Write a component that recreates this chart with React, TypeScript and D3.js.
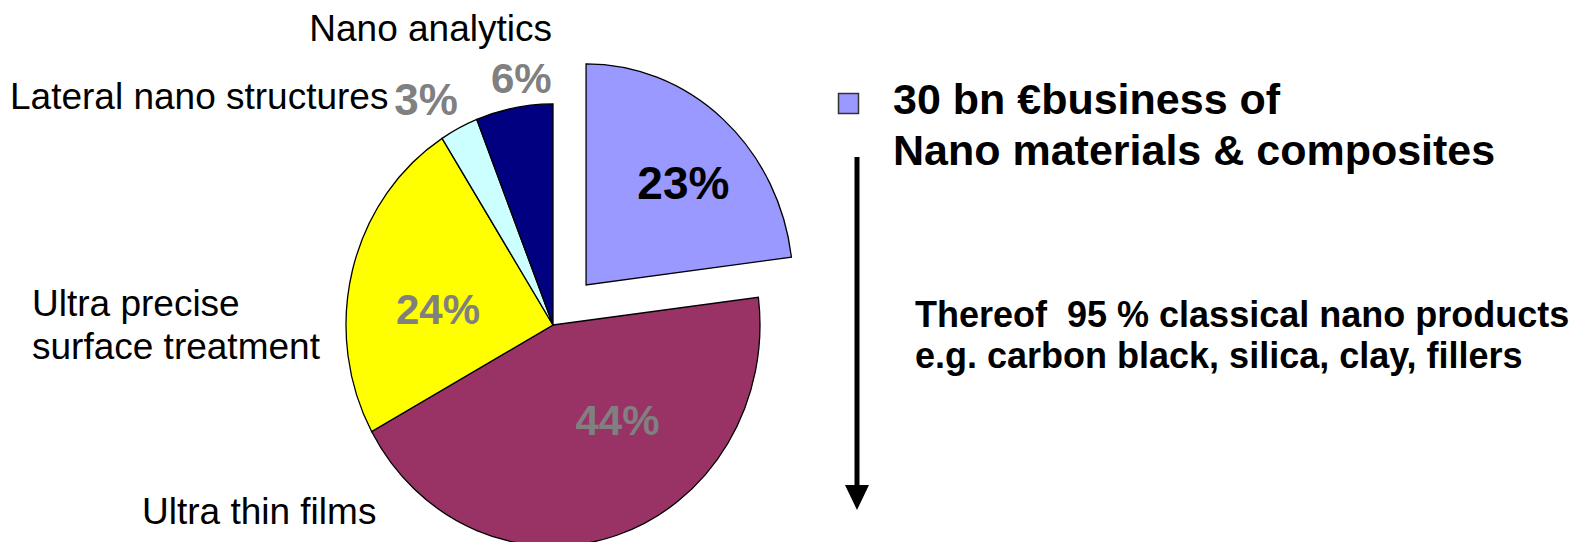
import * as d3 from "d3";
import { useEffect, useRef } from "react";

// slices, clockwise from 12 o'clock
const categories = ["Nano materials & composites", "Ultra thin films", "Ultra precise surface treatment", "Lateral nano structures", "Nano analytics"];
const shares = [23, 44, 24, 3, 6];
const sliceColors = ["#9999ff", "#993366", "#ffff00", "#ccffff", "#000080"];
const pctColors = ["#000000", "#808080", "#808080", "#808080", "#808080"];

const legendLine1 = "30 bn €business of";
const legendLine2 = "Nano materials & composites";
const noteLines = ["Thereof  95 % classical nano products", "e.g. carbon black, silica, clay, fillers"];

const W = 1588, H = 542;
const FONT = "'Liberation Sans', Arial, Helvetica, sans-serif";

const App = () => {
    const ref = useRef<SVGSVGElement>(null);

    useEffect(() => {
        const svg = d3.select(ref.current);
        svg.selectAll("*").remove();

        const cx = 553, cy = 325;
        const radius = 207;
        const yStretch = 1.068; // the pie in the picture is a little taller than wide
        const explode = 50;

        const pie = d3.pie<number>().sort(null).value(d => d);
        const slices = pie(shares);
        const arc = d3.arc<d3.PieArcDatum<number>>().innerRadius(0).outerRadius(radius);

        const mid = (d) => (d.startAngle + d.endAngle) / 2;
        const shift = (d, i) => (i === 0 ? explode : 0);

        const g = svg.append("g").attr("transform", `translate(${cx},${cy}) scale(1,${yStretch})`);

        g.selectAll("path")
            .data(slices)
            .join("path")
            .attr("d", arc)
            .attr("transform", (d, i) => `translate(${Math.sin(mid(d)) * shift(d, i)},${-Math.cos(mid(d)) * shift(d, i)})`)
            .attr("fill", (d, i) => sliceColors[i])
            .attr("stroke", "#000")
            .attr("stroke-width", 1.3)
            .attr("vector-effect", "non-scaling-stroke");

        // percent labels: distance from centre (x radius), angle nudge in degrees
        const labelR = [0.66, 0.53, 0.56, 1.19, 1.13];
        const labelNudge = [4, -18, -7, -4, 3];
        const labelSize = [46, 42, 42, 44, 42];
        const pctPos = slices.map((d, i) => {
            const a = mid(d) + (labelNudge[i] * Math.PI) / 180;
            const r = radius * labelR[i];
            const sx = Math.sin(mid(d)) * shift(d, i);
            const sy = -Math.cos(mid(d)) * shift(d, i);
            return [cx + sx + Math.sin(a) * r, cy + (sy - Math.cos(a) * r) * yStretch];
        });

        svg.append("g")
            .selectAll("text")
            .data(slices)
            .join("text")
            .attr("x", (d, i) => pctPos[i][0])
            .attr("y", (d, i) => pctPos[i][1] + labelSize[i] * 0.358)
            .attr("text-anchor", "middle")
            .attr("font-family", FONT)
            .attr("font-weight", "bold")
            .attr("font-size", (d, i) => labelSize[i])
            .attr("fill", (d, i) => pctColors[i])
            .text(d => `${d.data}%`);

        // category labels around the pie
        const catLabels = [
            { lines: ["Ultra thin films"], x: 142, y: 524, anchor: "start" },
            { lines: ["Ultra precise", "surface treatment"], x: 32, y: 316, anchor: "start" },
            { lines: ["Lateral nano structures"], x: 10, y: 109, anchor: "start" },
            { lines: ["Nano analytics"], x: 552, y: 41, anchor: "end" },
        ];
        const cl = svg.append("g")
            .attr("font-family", FONT)
            .attr("font-size", 37)
            .attr("fill", "#000");
        catLabels.forEach(l => {
            const t = cl.append("text").attr("x", l.x).attr("y", l.y).attr("text-anchor", l.anchor);
            l.lines.forEach((s, k) => {
                t.append("tspan").attr("x", l.x).attr("dy", k === 0 ? 0 : 43).text(s);
            });
        });

        // legend
        svg.append("rect")
            .attr("x", 838.5).attr("y", 93.5)
            .attr("width", 20).attr("height", 20)
            .attr("fill", sliceColors[0])
            .attr("stroke", "#333")
            .attr("stroke-width", 1.5);

        const lg = svg.append("g")
            .attr("font-family", FONT)
            .attr("font-weight", "bold")
            .attr("font-size", 43)
            .attr("fill", "#000");
        lg.append("text").attr("x", 893).attr("y", 114).text(legendLine1);
        lg.append("text").attr("x", 893).attr("y", 165).text(legendLine2);

        // arrow
        svg.append("line")
            .attr("x1", 857).attr("x2", 857)
            .attr("y1", 157).attr("y2", 488)
            .attr("stroke", "#000")
            .attr("stroke-width", 5);
        svg.append("path")
            .attr("d", d3.line()([[845, 485], [869, 485], [857, 510]]) + "Z")
            .attr("fill", "#000");

        const ng = svg.append("g")
            .attr("font-family", FONT)
            .attr("font-weight", "bold")
            .attr("font-size", 36)
            .attr("fill", "#000");
        noteLines.forEach((s, k) => {
            ng.append("text").attr("x", 915).attr("y", 327 + k * 41).style("white-space", "pre").text(s);
        });
    }, []);

    return (
        <svg ref={ref} width={W} height={H} style={{ position: "fixed", left: 0, top: 0, background: "#fff" }} />
    );
};

export default App;
